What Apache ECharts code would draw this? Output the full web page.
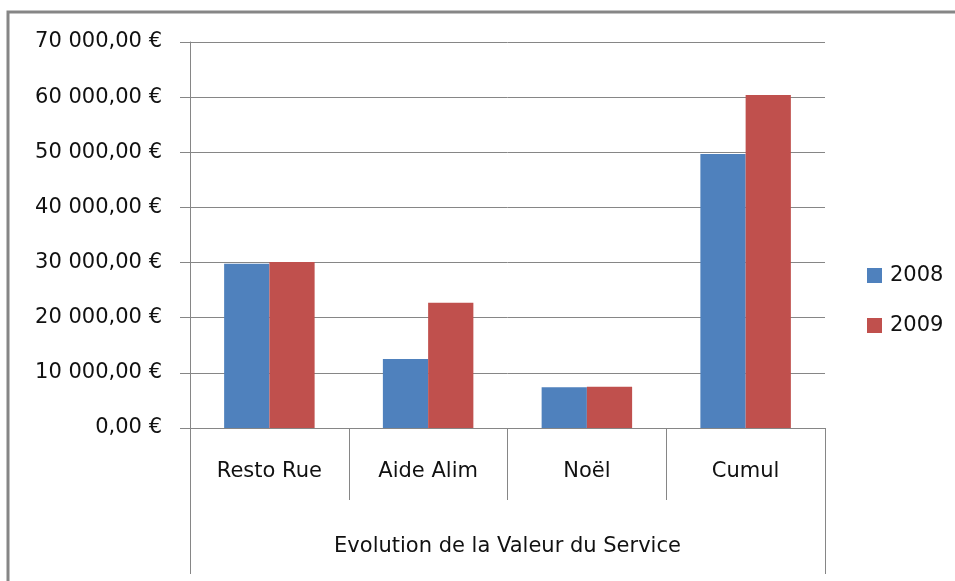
<!DOCTYPE html>
<html>
<head>
<meta charset="utf-8">
<script src="https://cdn.jsdelivr.net/npm/echarts@6/dist/echarts.min.js"></script>
<style>
  html, body { margin: 0; padding: 0; background: #fff; }
  #main { width: 955px; height: 581px; }
</style>
</head>
<body>
<div id="main"></div>
<script>
// data
var categories = ['Resto Rue', 'Aide Alim', 'Noël', 'Cumul']
var groupLabel = ['Evolution de la Valeur du Service']
var seriesNames = ['2008', '2009']
var values2008 = [29800, 12500, 7400, 49700]
var values2009 = [30100, 22700, 7500, 60400]

function euro(v) {
    var s = String(Math.round(v))
    s = s.replace(/\B(?=(\d{3})+(?!\d))/g, ' ')
    return s + ',00 €'
}

var font = 'DejaVu Sans'
var gray = '#868686'
var myChart = echarts.init(document.getElementById('main'))

var option = {
    animation: false,
    backgroundColor: '#fff',
    textStyle: { fontFamily: font },
    graphic: [{
        type: 'rect',
        shape: { x: 8, y: 12, width: 1000, height: 700 },
        style: { fill: 'none', stroke: gray, lineWidth: 3 },
        silent: true
    }],
    grid: { left: 190, right: 130, top: 42, bottom: 153 },
    legend: {
        orient: 'vertical',
        left: 867,
        top: 265,
        padding: 0,
        itemWidth: 15,
        itemHeight: 15,
        itemGap: 29,
        icon: 'rect',
        data: seriesNames,
        textStyle: { fontFamily: font, fontSize: 21, color: '#111', padding: [0, 0, 0, 3] }
    },
    xAxis: [{
        type: 'category',
        data: categories,
        axisLine: { show: true, lineStyle: { color: gray, width: 1 } },
        axisTick: { show: true, interval: 0, length: 72, lineStyle: { color: gray } },
        axisLabel: { fontFamily: font, fontSize: 21, color: '#111', margin: 33 }
    }, {
        type: 'category',
        position: 'bottom',
        data: groupLabel,
        axisLine: { show: false },
        axisTick: { show: true, interval: 0, length: 146, lineStyle: { color: gray } },
        axisLabel: { fontFamily: font, fontSize: 21, color: '#111', margin: 108 }
    }],
    yAxis: {
        type: 'value',
        min: 0,
        max: 70000,
        interval: 10000,
        axisLine: { show: true, lineStyle: { color: gray } },
        axisTick: { show: true, length: 10, lineStyle: { color: gray } },
        splitLine: { lineStyle: { color: gray, width: 1 } },
        axisLabel: { fontFamily: font, fontSize: 21, color: '#111', margin: 28, formatter: euro }
    },
    series: [{
        name: seriesNames[0],
        type: 'bar',
        data: values2008,
        itemStyle: { color: '#4F81BD' },
        barGap: '0%',
        barCategoryGap: '43%'
    }, {
        name: seriesNames[1],
        type: 'bar',
        data: values2009,
        itemStyle: { color: '#C0504D' },
        barGap: '0%',
        barCategoryGap: '43%'
    }]
}
myChart.setOption(option)
</script>
</body>
</html>
